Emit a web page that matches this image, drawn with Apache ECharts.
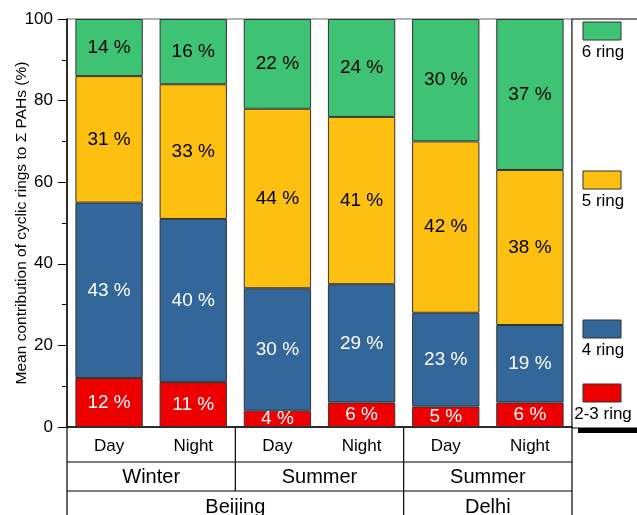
<!DOCTYPE html>
<html>
<head>
<meta charset="utf-8">
<script src="https://cdn.jsdelivr.net/npm/echarts@6/dist/echarts.min.js"></script>
<style>
  html, body { margin: 0; padding: 0; background: #fff; }
  #chart { width: 637px; height: 515px; }
</style>
</head>
<body>
<div id="chart"></div>
<script>
// data
const categories = ['Day', 'Night', 'Day', 'Night', 'Day', 'Night'];
const seasons = ['Winter', 'Summer', 'Summer'];
const seasonSpans = [2, 2, 2];
const cities = ['Beijing', 'Delhi'];
const citySpans = [4, 2];
const ring23 = [12, 11, 4, 6, 5, 6];
const ring4 = [43, 40, 30, 29, 23, 19];
const ring5 = [31, 33, 44, 41, 42, 38];
const ring6 = [14, 16, 22, 24, 30, 37];

const FONT = '"Liberation Sans", Arial, sans-serif';
const colors = {
    '2-3 ring': '#ee0000',
    '4 ring': '#336699',
    '5 ring': '#fdc010',
    '6 ring': '#3dc373'
};
const labelColors = {
    '2-3 ring': '#fff',
    '4 ring': '#fff',
    '5 ring': '#000',
    '6 ring': '#000'
};

const chart = echarts.init(document.getElementById('chart'));

const makeSeries = (name, data) => ({
    name: name,
    type: 'bar',
    stack: 'total',
    barWidth: '80%',
    data: data,
    itemStyle: {
        color: colors[name],
        borderColor: '#333',
        borderWidth: 1
    },
    label: {
        show: true,
        position: 'inside',
        formatter: '{c} %',
        color: labelColors[name],
        fontFamily: FONT,
        fontSize: 19
    },
    emphasis: { disabled: true }
});

const option = {
    animation: false,
    grid: {
        left: 67,
        right: 65,
        top: 19,
        bottom: 88,
        outerBoundsMode: 'none',
        containLabel: false,
        show: true,
        borderColor: '#666',
        borderWidth: 1
    },
    xAxis: {
        type: 'category',
        data: categories,
        axisLine: { lineStyle: { color: '#000', width: 1.5 } },
        axisTick: { alignWithLabel: true, length: 8, lineStyle: { color: '#000' } },
        axisLabel: {
            fontFamily: FONT,
            fontSize: 17,
            color: '#000',
            margin: 11
        }
    },
    yAxis: {
        type: 'value',
        min: 0,
        max: 100,
        interval: 20,
        name: 'Mean contribution of cyclic rings to \u03a3 PAHs (%)',
        nameLocation: 'middle',
        nameGap: 37,
        nameMoveOverlap: false,
        nameTextStyle: { fontFamily: FONT, fontSize: 15.5, color: '#000' },
        axisLine: { show: true, lineStyle: { color: '#000', width: 1.5 } },
        axisTick: { show: true, length: 9, lineStyle: { color: '#000' } },
        minorTick: { show: true, splitNumber: 2, length: 5, lineStyle: { color: '#000' } },
        axisLabel: {
            fontFamily: FONT,
            fontSize: 17,
            color: '#000',
            margin: 14
        },
        splitLine: { show: false }
    },
    series: [
        makeSeries('2-3 ring', ring23),
        makeSeries('4 ring', ring4),
        makeSeries('5 ring', ring5),
        makeSeries('6 ring', ring6)
    ]
};

chart.setOption(option);

// table below the x axis + legend box, placed from the axis scales
const c0 = chart.convertToPixel({ xAxisIndex: 0 }, 0);
const c1 = chart.convertToPixel({ xAxisIndex: 0 }, 1);
const band = c1 - c0;
const edge = (k) => c0 - band / 2 + k * band;
const yBase = chart.convertToPixel({ yAxisIndex: 0 }, 0);
const yTop = chart.convertToPixel({ yAxisIndex: 0 }, 100);
const row1 = yBase + 35;
const row2 = row1 + 29;
const bottom = 520;
const n = categories.length;

const lineEl = (x1, y1, x2, y2) => ({
    type: 'line',
    shape: { x1: x1, y1: y1, x2: x2, y2: y2 },
    style: { stroke: '#000', lineWidth: 1.2 },
    silent: true
});
const textEl = (x, y, text, size) => ({
    type: 'text',
    x: x,
    y: y,
    style: {
        text: text,
        font: size + 'px ' + FONT,
        fill: '#000',
        align: 'center',
        verticalAlign: 'middle',
        textAlign: 'center',
        textVerticalAlign: 'middle'
    },
    silent: true
});

const graphics = [];
graphics.push(lineEl(edge(0), yBase, edge(0), bottom));
graphics.push(lineEl(edge(n), yBase, edge(n), bottom));
graphics.push(lineEl(edge(0), row1, edge(n), row1));
graphics.push(lineEl(edge(0), row2, edge(n), row2));

// season row
let k = 0;
seasons.forEach((s, i) => {
    const a = k, b = k + seasonSpans[i];
    graphics.push(textEl((edge(a) + edge(b)) / 2, (row1 + row2) / 2 + 1, s, 20));
    if (b < n) graphics.push(lineEl(edge(b), yBase, edge(b), row2));
    k = b;
});
// city row
k = 0;
cities.forEach((c, i) => {
    const a = k, b = k + citySpans[i];
    graphics.push(textEl((edge(a) + edge(b)) / 2, row2 + 16, c, 20));
    if (b < n) graphics.push(lineEl(edge(b), row2, edge(b), bottom));
    k = b;
});

// legend box with shadow
const lx = edge(n);
graphics.push({
    type: 'rect',
    shape: { x: lx + 6, y: yTop + 5, width: 80, height: yBase - yTop + 1 },
    style: { fill: '#000' },
    silent: true
});
graphics.push({
    type: 'rect',
    shape: { x: lx, y: yTop, width: 80, height: yBase - yTop + 1 },
    style: { fill: '#fff', stroke: '#000', lineWidth: 1 },
    silent: true
});
const legendOrder = ['6 ring', '5 ring', '4 ring', '2-3 ring'];
const legendTops = [22, 171, 320, 384];
legendOrder.forEach((name, i) => {
    graphics.push({
        type: 'rect',
        shape: { x: lx + 11, y: legendTops[i], width: 38, height: 18 },
        style: { fill: colors[name], stroke: '#333', lineWidth: 1 },
        silent: true
    });
    graphics.push(textEl(lx + 31, legendTops[i] + 30, name, 17));
});

chart.setOption({ graphic: { elements: graphics } });
</script>
</body>
</html>
